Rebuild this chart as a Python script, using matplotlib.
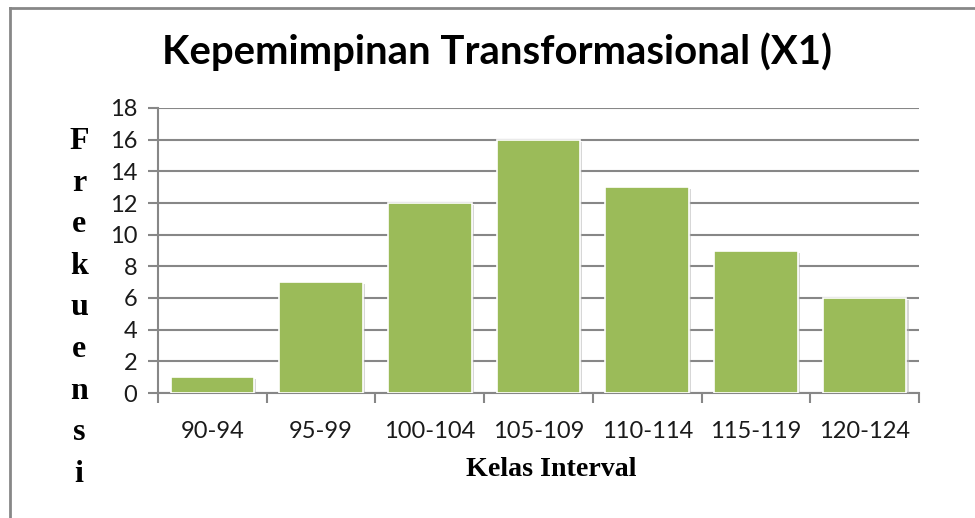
import matplotlib
matplotlib.use("Agg")
import matplotlib.pyplot as plt
import matplotlib.patheffects as pe
import numpy as np

categories = ["90-94", "95-99", "100-104", "105-109", "110-114", "115-119", "120-124"]
frekuensi = [1, 7, 12, 16, 13, 9, 6]
yticks = [0, 2, 4, 6, 8, 10, 12, 14, 16, 18]
ylabel = "Frekuensi"

W, H = 975, 518
fig = plt.figure(figsize=(W / 100, H / 100), dpi=100)
ax = fig.add_axes([158 / W, 1 - 393 / H, (919 - 158) / W, (393 - 108) / H])

grey = "#878787"
x = np.arange(len(categories))
bars = ax.bar(x, frekuensi, width=0.77, color="#9BBB59", edgecolor="white",
              linewidth=1.2, zorder=3)
for b in bars:
    b.set_path_effects([pe.SimplePatchShadow(offset=(1.5, -1.5), shadow_rgbFace="#b0b0b0", alpha=0.5),
                        pe.Normal()])

ax.set_xlim(-0.5, len(categories) - 0.5)
ax.set_ylim(0, 18)
ax.set_yticks(yticks)
ax.set_yticklabels([str(v) for v in yticks], fontsize=17, family="Lato", color="#1a1a1a")
ax.set_xticks(x)
ax.set_xticklabels(categories, fontsize=17, family="Lato", color="#1a1a1a")
ax.set_xticks(np.arange(-0.5, len(categories), 1.0), minor=True)
ax.tick_params(axis="x", which="major", length=0, pad=20)
ax.tick_params(axis="x", which="minor", length=7, width=1.5, color=grey)
ax.tick_params(axis="y", length=7, width=1.5, color=grey, pad=8)

ax.grid(axis="y", color=grey, linewidth=1.5, zorder=0)
ax.set_axisbelow(True)
for s in ["top", "right"]:
    ax.spines[s].set_visible(False)
for s in ["left", "bottom"]:
    ax.spines[s].set_color(grey)
    ax.spines[s].set_linewidth(1.5)

fig.text(497 / W, 1 - 52 / H, "Kepemimpinan Transformasional (X1)", ha="center", va="center",
         fontsize=28.8, fontweight="bold", family="Lato", color="black")
fig.text(551 / W, 1 - 470 / H, "Kelas Interval", ha="center", va="center",
         fontsize=20.2, fontweight="bold", family="Liberation Serif", color="black")
for i, ch in enumerate(ylabel):
    fig.text(79 / W, 1 - (149 + 41.6 * i) / H, ch, ha="center", va="baseline",
             fontsize=23, fontweight="bold", family="Liberation Serif", color="black")

# outer frame (left and top edges visible)
fig.add_artist(plt.Line2D([9.5 / W, 9.5 / W], [0, 1 - 7.5 / H], color=grey, lw=2))
fig.add_artist(plt.Line2D([9.5 / W, 1], [1 - 7.5 / H, 1 - 7.5 / H], color=grey, lw=2))

fig.savefig("out.png", dpi=100)
